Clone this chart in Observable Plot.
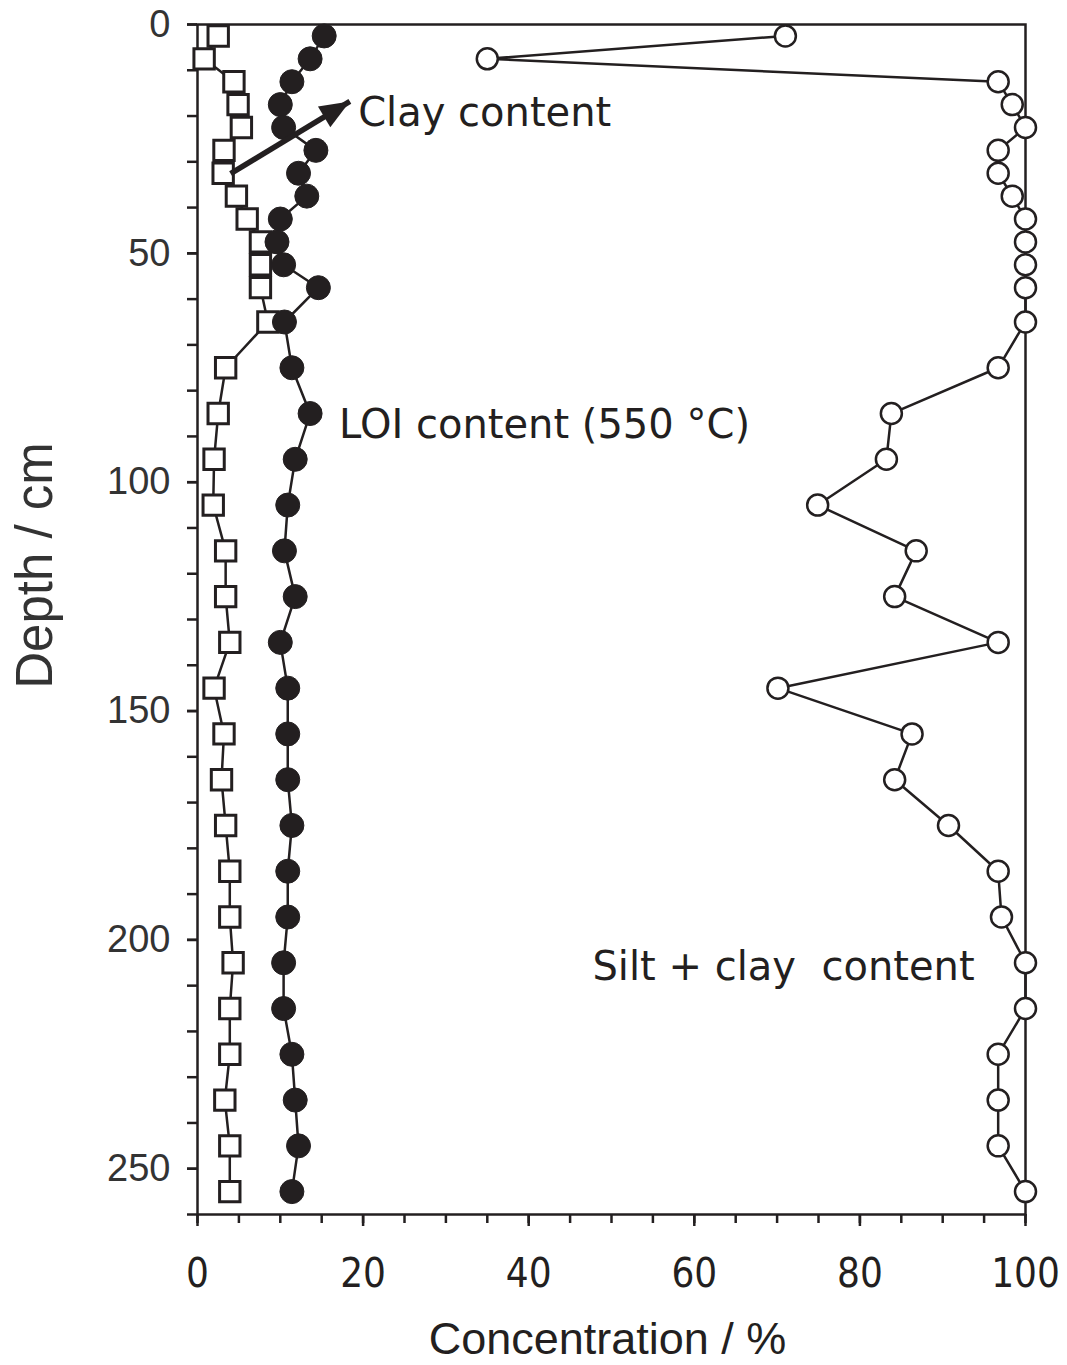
<!DOCTYPE html>
<html>
<head>
<meta charset="utf-8">
<script src="https://cdn.jsdelivr.net/npm/d3@7"></script>
<script src="https://cdn.jsdelivr.net/npm/@observablehq/plot@0.6"></script>
<style>
  html, body { margin: 0; padding: 0; background: #fff; }
  #chart svg { display: block; }
</style>
</head>
<body>
<div id="chart"></div>
<script>
// Depth of each sample (cm)
const depth = [2.5, 7.5, 12.5, 17.5, 22.5, 27.5, 32.5, 37.5, 42.5, 47.5, 52.5, 57.5, 65,
  75, 85, 95, 105, 115, 125, 135, 145, 155, 165, 175, 185, 195, 205, 215, 225, 235, 245, 255];
// Clay content (%) — open squares
const clay = [2.5, 0.8, 4.4, 4.9, 5.3, 3.2, 3.1, 4.7, 6.0, 7.6, 7.6, 7.6, 8.5,
  3.4, 2.5, 2.0, 1.9, 3.4, 3.4, 3.9, 2.0, 3.2, 2.9, 3.4, 3.9, 3.9, 4.3, 3.9, 3.9, 3.3, 3.9, 3.9];
// LOI content at 550 °C (%) — filled circles
const loi = [15.3, 13.6, 11.4, 10.0, 10.4, 14.3, 12.2, 13.2, 10.0, 9.6, 10.4, 14.6, 10.5,
  11.4, 13.6, 11.8, 10.9, 10.5, 11.8, 10.0, 10.9, 10.9, 10.9, 11.4, 10.9, 10.9, 10.4, 10.4, 11.4, 11.8, 12.2, 11.4];
// Silt + clay content (%) — open circles
const siltClay = [71.0, 35.0, 96.7, 98.4, 100, 96.7, 96.7, 98.4, 100, 100, 100, 100, 100,
  96.7, 83.8, 83.2, 74.9, 86.8, 84.2, 96.7, 70.1, 86.3, 84.2, 90.7, 96.7, 97.1, 100, 100, 96.7, 96.7, 96.7, 100];

const xTicks = [0, 20, 40, 60, 80, 100];
const xMinorTicks = d3.range(0, 101, 5);
const yTicks = [0, 50, 100, 150, 200, 250];
const yMinorTicks = d3.range(0, 261, 10);

const seriesLabels = ["Clay content", "LOI content (550 \u00b0C)", "Silt + clay\u00a0 content"];
const labelX = [19.4, 17.1, 47.7];
const labelY = [19.4, 87.5, 206.0];

const arrowFrom = {x: 4.0, y: 32.6};
const arrowTo = {x: 18.4, y: 16.8};

const rows = depth.map((d, i) => ({depth: d, clay: clay[i], loi: loi[i], silt: siltClay[i]}));
const labels = seriesLabels.map((t, i) => ({text: t, x: labelX[i], y: labelY[i]}));
const arrows = [{x1: arrowFrom.x, y1: arrowFrom.y, x2: arrowTo.x, y2: arrowTo.y}];

// slender filled arrowhead with its tip at the symbol origin (pointing up before rotation)
const arrowHead = {
  draw(context) {
    context.moveTo(0, 0);
    context.lineTo(-12, 30);
    context.lineTo(12, 30);
    context.closePath();
  }
};

const ink = "#231f20";

const chart = Plot.plot({
  width: 1067,
  height: 1365,
  marginLeft: 197,
  marginRight: 42,
  marginTop: 24,
  marginBottom: 151,
  x: {domain: [0, 100]},
  y: {domain: [0, 260], reverse: true},
  style: {background: "white", color: ink, fontFamily: "'DejaVu Sans', sans-serif"},
  marks: [
    // minor ticks
    Plot.axisX(xMinorTicks, {tickSize: 9, tickFormat: () => "", strokeWidth: 2.5, label: null}),
    Plot.axisY(yMinorTicks, {tickSize: 10, tickFormat: () => "", strokeWidth: 2.5, label: null}),
    // major ticks with labels
    Plot.axisX(xTicks, {tickSize: 12, tickPadding: 32, strokeWidth: 2.5, label: null,
      fontSize: 40, fontFamily: "'DejaVu Sans Condensed', 'Liberation Sans', sans-serif", fill: ink}),
    Plot.axisY(yTicks, {tickSize: 10, tickPadding: 17, strokeWidth: 2.5, label: null,
      fontSize: 38, fontFamily: "'Liberation Sans', Arial, sans-serif", fill: "#333"}),
    Plot.frame({stroke: ink, strokeWidth: 2.5}),

    // Silt + clay content
    Plot.line(rows, {x: "silt", y: "depth", stroke: ink, strokeWidth: 2.5}),
    Plot.dot(rows, {x: "silt", y: "depth", r: 10.5, fill: "white", stroke: ink, strokeWidth: 2.5}),

    // Clay content
    Plot.line(rows, {x: "clay", y: "depth", stroke: ink, strokeWidth: 2.5}),
    Plot.dot(rows, {x: "clay", y: "depth", symbol: "square", r: 11.5, fill: "white", stroke: ink, strokeWidth: 3}),

    // LOI content
    Plot.line(rows, {x: "loi", y: "depth", stroke: ink, strokeWidth: 2.5}),
    Plot.dot(rows, {x: "loi", y: "depth", r: 12, fill: ink, stroke: ink, strokeWidth: 1}),

    // arrow pointing to clay series label
    Plot.link(arrows, {x1: "x1", y1: "y1", x2: "x2", y2: "y2", stroke: ink, strokeWidth: 5.5}),
    Plot.dot(arrows, {x: "x2", y: "y2", symbol: arrowHead, r: 10, rotate: 59, fill: ink, stroke: "none"}),

    // series labels
    Plot.text(labels, {x: "x", y: "y", text: "text", textAnchor: "start", lineAnchor: "middle",
      fontSize: 40, fontFamily: "'DejaVu Sans', Verdana, sans-serif", fill: ink}),

    // axis titles
    Plot.text(["Depth / cm"], {text: d => d, frameAnchor: "left", textAnchor: "middle", dx: -162, dy: -54, rotate: -90,
      lineAnchor: "middle", fontSize: 51, fontFamily: "'Liberation Sans', Arial, sans-serif", fill: "#333"}),
    Plot.text(["Concentration / %"], {text: d => d, frameAnchor: "bottom", textAnchor: "middle", dx: -4, dy: 125,
      lineAnchor: "middle", fontSize: 45, fontFamily: "'Liberation Sans', Arial, sans-serif", fill: ink})
  ]
});

document.getElementById("chart").appendChild(chart);
</script>
</body>
</html>
